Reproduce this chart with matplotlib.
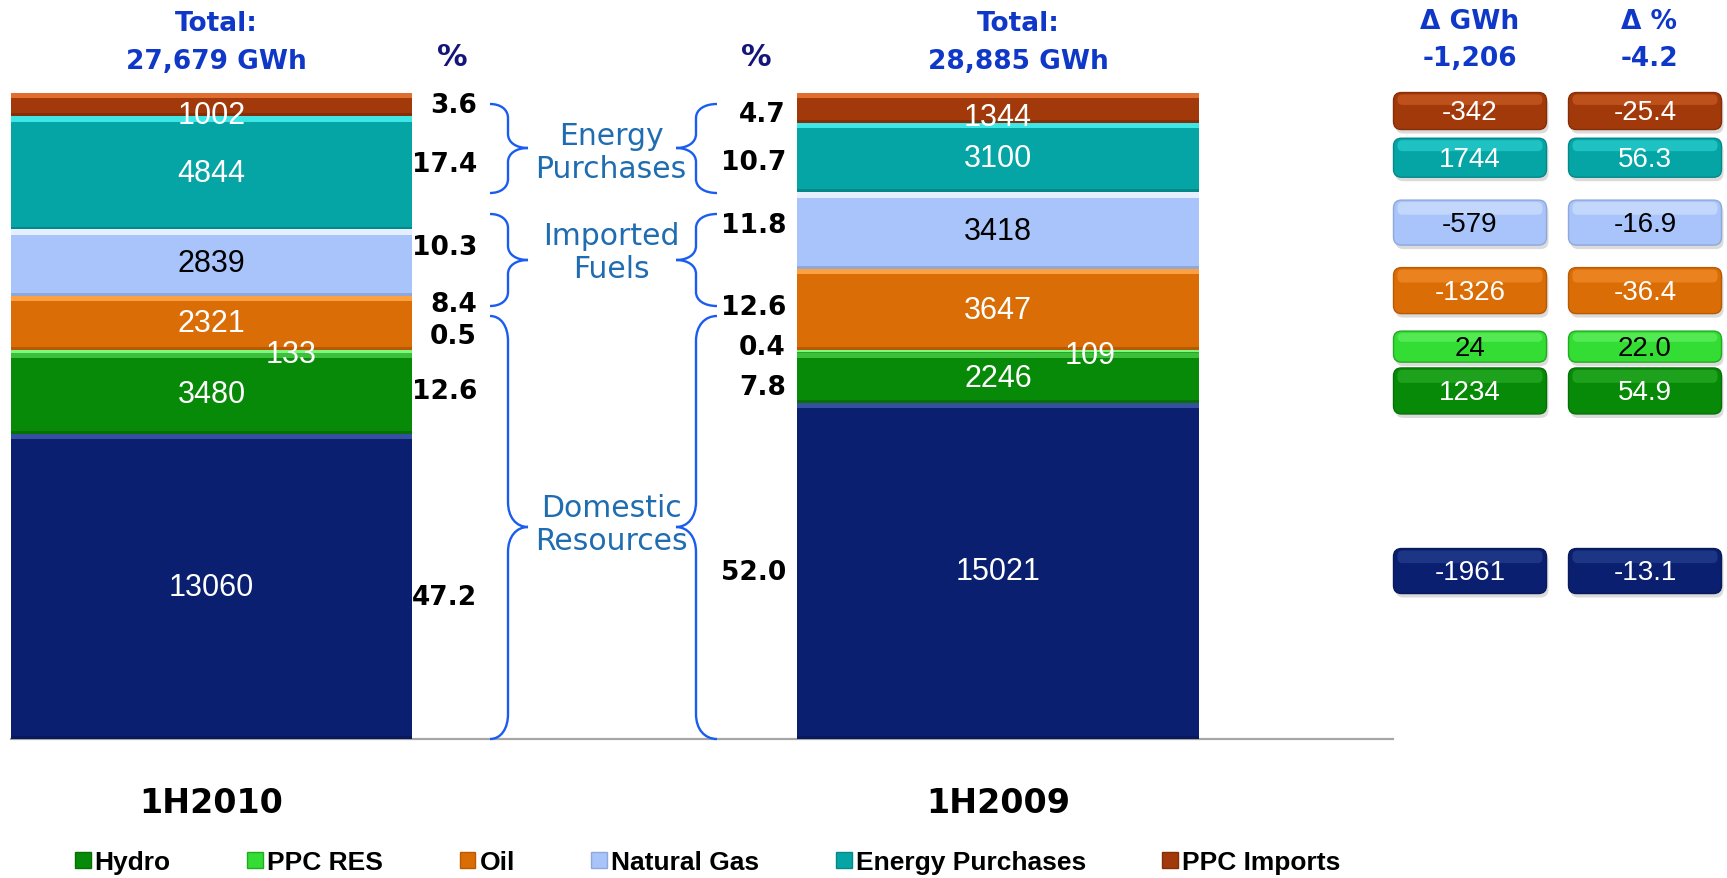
import numpy as np
import matplotlib
matplotlib.use('Agg')
import matplotlib.pyplot as plt
from matplotlib.patches import FancyBboxPatch, Rectangle, PathPatch
from matplotlib.path import Path

# ---- data (bottom to top of the stack) ----
sources = ['Lignite', 'Hydro', 'PPC RES', 'Oil', 'Natural Gas',
           'Energy Purchases', 'PPC Imports']
periods = ['1H2010', '1H2009']
gwh_2010 = [13060, 3480, 133, 2321, 2839, 4844, 1002]
gwh_2009 = [15021, 2246, 109, 3647, 3418, 3100, 1344]
pct_2010 = [47.2, 12.6, 0.5, 8.4, 10.3, 17.4, 3.6]
pct_2009 = [52.0, 7.8, 0.4, 12.6, 11.8, 10.7, 4.7]
delta_gwh = [-1961, 1234, 24, -1326, -579, 1744, -342]
delta_pct = [-13.1, 54.9, 22.0, -36.4, -16.9, 56.3, -25.4]
totals = ['27,679', '28,885']
total_delta_gwh = '-1,206'
total_delta_pct = '-4.2'
groups = ['Domestic\nResources', 'Imported\nFuels', 'Energy\nPurchases']

# ---- styles ----
colors = ['#0A1F6F', '#078A07', '#33DD33', '#DA6D05', '#A8C4FA', '#06A5A5', '#A2390A']
light = ['#34509F', '#3CC03C', '#7CF87C', '#FFA040', '#E6EFFF', '#3FE6E6', '#E06E30']
dark = ['#081A5C', '#067006', '#22AA22', '#B85A04', '#8FA8DA', '#058888', '#852E07']
text_col = ['white', 'white', 'white', 'white', 'black', 'white', 'white']
box_text = ['white', 'white', 'black', 'white', 'black', 'white', 'white']
blue = '#1038C8'
group_blue = '#1F6DB0'
brace_blue = '#1A5CF0'

W, H = 1727, 879
AX_TOP, AX_BOT = 94, 740
X0, UNIT = 211.5, 786.5          # pixel of bar 0 centre, pixels per bar step

fig = plt.figure(figsize=(W / 100, H / 100), dpi=100)
ax = fig.add_axes([0, (H - AX_BOT) / H, 1, (AX_BOT - AX_TOP) / H])
ax.set_xlim(-X0 / UNIT, (W - X0) / UNIT)
ax.set_ylim(0, 100)
for s in ax.spines.values():
    s.set_visible(False)
ax.set_yticks([])
ax.set_xticks([0, 1])
ax.set_xticklabels(periods, fontsize=24, fontweight='bold', family='DejaVu Sans')
ax.tick_params(axis='x', length=0, pad=34)

ov = fig.add_axes([0, 0, 1, 1], zorder=3)
ov.set_xlim(0, W)
ov.set_ylim(H, 0)
ov.axis('off')
ov.patch.set_alpha(0)


def to_px(p):
    return AX_BOT - p * (AX_BOT - AX_TOP) / 100.0


# grey baseline
ax.axhline(0, xmin=11 / W, xmax=1393 / W, color='#A6A6A6', lw=1.6, clip_on=False, zorder=1)

# ---- stacked 100% bars ----
inner_nudge = [[0, 0, 3, 0, 0, 0, 10], [0, 0, 3, 0, 0, 0, 9]]
inner_dx = [[0, 0, 80, 0, 0, 0, 0], [0, 0, 92, 0, 0, 0, 0]]
pct_x = [477, 786]
pct_nudge = [[10, -3, -15, -19, -16, -9, 0], [1, 9, -5, -3, -6, 4, 6]]
centres = []
for i, (vals, pcts) in enumerate(zip([gwh_2010, gwh_2009], [pct_2010, pct_2009])):
    share = np.array(vals) / sum(vals) * 100
    bottoms = np.concatenate([[0], np.cumsum(share)[:-1]])
    xs = np.full(len(vals), i)
    ax.bar(xs, share, bottom=bottoms, width=0.51, color=colors, linewidth=0, zorder=2)
    hl = np.minimum(share, 0.8)
    ax.bar(xs, hl, bottom=bottoms + share - hl, width=0.51, color=light, linewidth=0, zorder=2)
    dk = np.minimum(share * 0.15, 0.45)
    ax.bar(xs, dk, bottom=bottoms, width=0.51, color=dark, linewidth=0, zorder=2)
    mid = bottoms + share / 2
    centres.append(mid)
    for k, v in enumerate(vals):
        ax.annotate(str(v), (i, mid[k]), xytext=(inner_dx[i][k], -inner_nudge[i][k]),
                    textcoords='offset pixels', ha='center', va='center',
                    fontsize=22, color=text_col[k], family='Liberation Sans', zorder=4)
        ax.annotate(f'{pcts[k]:.1f}', ((pct_x[i] - X0) / UNIT, mid[k]),
                    xytext=(0, -pct_nudge[i][k]), textcoords='offset pixels',
                    ha='right', va='center', fontsize=19, fontweight='bold',
                    color='black', family='DejaVu Sans', zorder=4)

# ---- headers ----
for xc, t in zip([216, 1018], totals):
    ov.text(xc, 24, 'Total:', ha='center', va='center', fontsize=19,
            fontweight='bold', color=blue)
    ov.text(xc, 62, f'{t} GWh', ha='center', va='center', fontsize=19,
            fontweight='bold', color=blue)
for xc in [452, 756]:
    ov.text(xc, 57, '%', ha='center', va='center', fontsize=22,
            fontweight='bold', color='#14147A')
ov.text(1470, 22, 'Δ GWh', ha='center', va='center', fontsize=19, fontweight='bold', color=blue)
ov.text(1470, 59, total_delta_gwh, ha='center', va='center', fontsize=19, fontweight='bold', color=blue)
ov.text(1649, 22, 'Δ %', ha='center', va='center', fontsize=19, fontweight='bold', color=blue)
ov.text(1649, 59, total_delta_pct, ha='center', va='center', fontsize=19, fontweight='bold', color=blue)


# ---- braces and group labels ----
def brace(xe, xs, xt, yt, yb, yc, r):
    verts = [(xe, yt), (xe + (xs - xe) * 0.6, yt), (xs, yt + r * 0.4), (xs, yt + r),
             (xs, yc - r), (xs, yc - r * 0.4), (xs + (xt - xs) * 0.4, yc), (xt, yc),
             (xs + (xt - xs) * 0.4, yc), (xs, yc + r * 0.4), (xs, yc + r),
             (xs, yb - r), (xs, yb - r * 0.4), (xe + (xs - xe) * 0.6, yb), (xe, yb)]
    codes = [Path.MOVETO, Path.CURVE4, Path.CURVE4, Path.CURVE4, Path.LINETO,
             Path.CURVE4, Path.CURVE4, Path.CURVE4, Path.CURVE4, Path.CURVE4, Path.CURVE4,
             Path.LINETO, Path.CURVE4, Path.CURVE4, Path.CURVE4]
    ov.add_patch(PathPatch(Path(verts, codes), fill=False, ec=brace_blue, lw=1.7))


brace_rows = [(317, 740, 528, 25), (215, 307, 261, 14), (105, 194, 149, 14)]
for yt, yb, yc, r in brace_rows:
    brace(490, 508, 528, yt, yb, yc, r)
    brace(717, 696, 676, yt, yb, yc, r)

group_y = [525, 253, 153]
for g, gy in zip(groups, group_y):
    ov.text(611, gy, g, ha='center', va='center', fontsize=21.5, color=group_blue,
            linespacing=1.18)

# ---- delta boxes ----
box_nudge = [0, 13, -5, -19, -8, 0, 3]
box_h = [45, 46, 31, 46, 45, 39, 37]
col_x = [1470, 1645]
box_w = 153
for k in range(len(sources)):
    yc = to_px(centres[1][k]) + box_nudge[k]
    h = box_h[k]
    for cx, txt in zip(col_x, [str(delta_gwh[k]), f'{delta_pct[k]:.1f}']):
        ov.add_patch(FancyBboxPatch((cx - box_w / 2 + 2, yc - h / 2 + 4), box_w, h,
                                    boxstyle='round,pad=0,rounding_size=8',
                                    fc='#888888', ec='none', alpha=0.3, zorder=1))
        ov.add_patch(FancyBboxPatch((cx - box_w / 2, yc - h / 2), box_w, h,
                                    boxstyle='round,pad=0,rounding_size=8',
                                    fc=colors[k], ec=dark[k], lw=1.0, zorder=2))
        ov.add_patch(FancyBboxPatch((cx - box_w / 2 + 4, yc - h / 2 + 2), box_w - 8, h * 0.28,
                                    boxstyle='round,pad=0,rounding_size=5',
                                    fc=light[k], ec='none', alpha=0.45, zorder=2))
        ov.text(cx, yc + 1, txt, ha='center', va='center', fontsize=20,
                color=box_text[k], family='Liberation Sans', zorder=3)

# ---- legend ----
handles = [Rectangle((0, 0), 1, 1, fc=c, ec=d, lw=1.0) for c, d in zip(colors, dark)]
fig.legend(handles, sources, loc='center left', bbox_to_anchor=(-108 / W, 1 - 863 / H),
           ncol=len(sources), frameon=False, borderpad=0, borderaxespad=0,
           handlelength=0.6, handleheight=0.55, handletextpad=0.15, columnspacing=2.9,
           prop={'family': 'Liberation Sans', 'weight': 'bold', 'size': 19})

fig.savefig('out.png', dpi=100)
